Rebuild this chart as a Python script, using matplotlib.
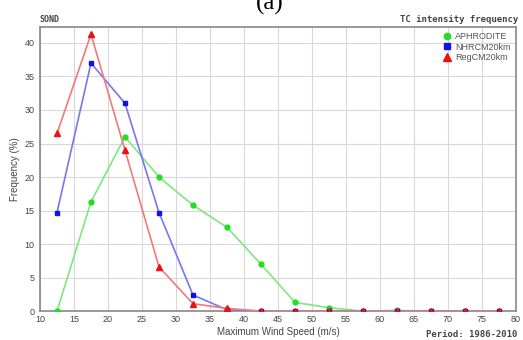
import matplotlib
matplotlib.use("Agg")
import matplotlib.pyplot as plt

# wind speed bin centres (m/s)
speed = [12.5, 17.5, 22.5, 27.5, 32.5, 37.5, 42.5, 47.5, 52.5, 57.5, 62.5, 67.5, 72.5, 77.5]

aphrodite = [0, 16.3, 26.0, 20.0, 15.8, 12.5, 7.0, 1.3, 0.5, 0, 0.1, 0, 0, 0]
nhrcm = [14.7, 37.0, 31.0, 14.7, 2.4, 0.2, 0, 0, 0, 0, 0, 0, 0, 0]
regcm = [26.5, 41.3, 24.0, 6.6, 1.1, 0.4, 0, 0, 0, 0, 0, 0, 0, 0]

xticks = list(range(10, 81, 5))
yticks = list(range(0, 41, 5))

plt.rcParams["font.family"] = ["Liberation Sans", "DejaVu Sans"]

fig = plt.figure(figsize=(5.23, 3.40), dpi=100)
ax = fig.add_axes([0.0765, 0.085, 0.91, 0.836])

ax.plot(speed, aphrodite, color="#7ee87e", lw=1.2, zorder=2)
ax.plot(speed, nhrcm, color="#7777ee", lw=1.2, zorder=3)
ax.plot(speed, regcm, color="#f07a7a", lw=1.2, zorder=4)
ax.plot(speed, aphrodite, "o", color="#22dd22", ms=3.5, ls="none", zorder=5, label="APHRODITE")
ax.plot(speed, nhrcm, "s", color="#1111ee", ms=3.5, ls="none", zorder=6, label="NHRCM20km")
ax.plot(speed, regcm, "^", color="#ee1111", ms=4, ls="none", zorder=7, label="RegCM20km")

ax.set_xlim(10, 80)
ax.set_ylim(0, 42.4)
ax.set_xticks(xticks)
ax.set_yticks(yticks)
ax.tick_params(labelsize=6.5, length=0, colors="#444444")
ax.tick_params(axis="x", pad=3)
ax.tick_params(axis="y", pad=4)
ax.grid(True, color="#d8d8d8", lw=0.8)
ax.set_axisbelow(True)
for s in ax.spines.values():
    s.set_color("#888888")
    s.set_linewidth(1.2)

ax.set_xlabel("Maximum Wind Speed (m/s)", fontsize=7, color="#444444", labelpad=2)
ax.set_ylabel("Frequency (%)", fontsize=7, color="#444444", labelpad=3)

leg = ax.legend(loc="upper right", fontsize=6.5, frameon=False, handletextpad=0.35,
                borderaxespad=0.2, labelspacing=0.15, handlelength=1.0, markerscale=1.3)
for t in leg.get_texts():
    t.set_color("#555555")

fig.text(0.075, 0.935, "SOND", fontsize=6, family="DejaVu Sans Mono", weight="bold", color="#444444")
fig.text(0.99, 0.935, "TC intensity frequency", fontsize=6.5, family="DejaVu Sans Mono",
         weight="bold", color="#444444", ha="right")
fig.text(0.99, 0.01, "Period: 1986-2010", fontsize=6.5, family="DejaVu Sans Mono",
         weight="bold", color="#444444", ha="right")
fig.text(0.515, 0.955, "(a)", fontsize=18, family="Liberation Serif", ha="center", va="bottom")

fig.savefig("out.png", dpi=100)
